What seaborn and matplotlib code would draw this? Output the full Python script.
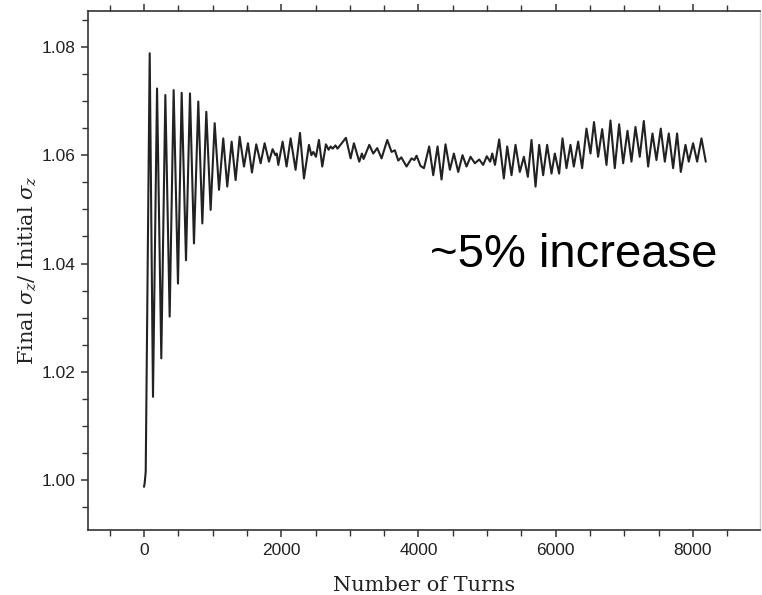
import matplotlib
matplotlib.use("Agg")
import matplotlib.pyplot as plt
import seaborn as sns
import pandas as pd
from matplotlib.ticker import MultipleLocator

turns = [0, 10, 25, 83, 131, 190, 252, 311, 374, 432, 495, 549, 612, 670, 728,
         791, 850, 908, 971, 1030, 1093, 1155, 1213, 1277, 1335, 1394, 1457,
         1515, 1573, 1636, 1700, 1758, 1821, 1874, 1915, 1935, 1957, 2020, 2078,
         2137, 2209, 2273, 2331, 2404, 2440, 2467, 2506, 2549, 2598, 2651, 2690,
         2720, 2750, 2790, 2820, 2870, 2943, 3011, 3059, 3137, 3176, 3200, 3283,
         3341, 3399, 3462, 3545, 3608, 3656, 3705, 3750, 3826, 3899, 3940, 3972,
         4030, 4080, 4156, 4215, 4278,
         4336, 4394, 4458, 4516, 4579, 4642, 4700, 4759, 4822, 4885, 4943, 4995,
         5045, 5075, 5115, 5176, 5244, 5293, 5356, 5414, 5477, 5536, 5594, 5647,
         5706, 5759, 5817, 5875, 5939, 5987, 6050, 6099, 6157, 6215, 6264, 6327,
         6385, 6448, 6507, 6558, 6618, 6677, 6740, 6798, 6861, 6924, 6983, 7046,
         7104, 7162, 7225, 7284, 7347, 7410, 7468, 7531, 7590, 7648, 7711, 7769,
         7823, 7891, 7939, 8002, 8061, 8124, 8187]
ratio = [0.9988, 0.9995, 1.0016, 1.0788, 1.0154, 1.0723, 1.0225, 1.0711, 1.0302,
         1.0720, 1.0363, 1.0715, 1.0406, 1.0714, 1.0437, 1.0699, 1.0474, 1.0680,
         1.0499, 1.0659, 1.0536, 1.0631, 1.0542, 1.0625, 1.0554, 1.0634, 1.0579,
         1.0622, 1.0568, 1.0620, 1.0585, 1.0622, 1.0588, 1.0611, 1.0600, 1.0603,
         1.0582, 1.0625, 1.0579, 1.0631, 1.0573, 1.0641, 1.0557, 1.0619, 1.0600,
         1.0606, 1.0597, 1.0628, 1.0579, 1.0620, 1.0610,
         1.0616, 1.0612, 1.0618, 1.0612, 1.0620, 1.0632, 1.0594, 1.0622, 1.0588,
         1.0603, 1.0593, 1.0619, 1.0603, 1.0613, 1.0594, 1.0628, 1.0606, 1.0609,
         1.0590, 1.0596, 1.0579, 1.0594, 1.0591, 1.0599, 1.0580, 1.0576, 1.0616,
         1.0563, 1.0616, 1.0555, 1.0620, 1.0573, 1.0603, 1.0569, 1.0600,
         1.0579, 1.0597, 1.0585, 1.0592, 1.0582, 1.0598, 1.0588, 1.0603, 1.0582,
         1.0629, 1.0557, 1.0616, 1.0563, 1.0619, 1.0569, 1.0597, 1.0560, 1.0628,
         1.0542, 1.0619, 1.0563, 1.0619, 1.0566, 1.0603, 1.0566, 1.0631, 1.0576,
         1.0619, 1.0579, 1.0625, 1.0576, 1.0649, 1.0603, 1.0661, 1.0597, 1.0648,
         1.0582, 1.0664, 1.0576, 1.0657, 1.0585, 1.0645, 1.0588, 1.0652, 1.0597,
         1.0663, 1.0579, 1.0640, 1.0591, 1.0649, 1.0588, 1.0640, 1.0576, 1.0640,
         1.0569, 1.0619, 1.0588, 1.0622, 1.0588, 1.0631, 1.0588]

x_ticks = [0, 2000, 4000, 6000, 8000]
y_ticks = [1.00, 1.02, 1.04, 1.06, 1.08]
y_tick_labels = ["1.00", "1.02", "1.04", "1.06", "1.08"]
annotation = "~5% increase"

df = pd.DataFrame({"turns": turns, "ratio": ratio})

sns.set_style("ticks")
plt.rcParams["mathtext.fontset"] = "dejavuserif"

fig = plt.figure(figsize=(7.62, 5.95), dpi=100)
ax = fig.add_axes([0.1155, 0.109, 0.8815, 0.8725])

sns.lineplot(data=df, x="turns", y="ratio", ax=ax, sort=False, estimator=None,
             color="#222222", linewidth=1.5)
for ln in ax.get_lines():
    ln.set_solid_joinstyle("round")

ax.set_xlim(-816, 8973)
ax.set_ylim(0.9908, 1.0866)
ax.set_xticks(x_ticks)
ax.set_xticklabels([str(t) for t in x_ticks])
ax.set_yticks(y_ticks)
ax.set_yticklabels(y_tick_labels)
ax.xaxis.set_minor_locator(MultipleLocator(500))
ax.yaxis.set_minor_locator(MultipleLocator(0.005))

for lab in ax.get_xticklabels() + ax.get_yticklabels():
    lab.set_fontfamily("Liberation Sans")
    lab.set_fontsize(12.5)
    lab.set_color("#222222")

ax.tick_params(axis="both", which="major", length=5, width=1.1, color="#333333",
               direction="out", top=True, right=False, pad=4)
ax.tick_params(axis="both", which="minor", length=4, width=1.0, color="#333333",
               direction="out", top=True, right=False)

for side in ["left", "bottom", "top"]:
    ax.spines[side].set_visible(True)
    ax.spines[side].set_color("#333333")
    ax.spines[side].set_linewidth(1.2)
ax.spines["right"].set_visible(True)
ax.spines["right"].set_color("#cccccc")
ax.spines["right"].set_linewidth(1.0)

ax.set_xlabel("Number of Turns", fontfamily="DejaVu Serif", fontsize=15,
              color="#222222", labelpad=13)
ax.set_ylabel(r"Final $\sigma_z$/ Initial $\sigma_z$", fontfamily="DejaVu Serif",
              fontsize=15, color="#222222", labelpad=2)

ax.text(0.509, 0.507, annotation, transform=ax.transAxes, ha="left",
        va="baseline", fontfamily="Liberation Sans", fontsize=34, color="black")

fig.savefig("out.png", dpi=100)
